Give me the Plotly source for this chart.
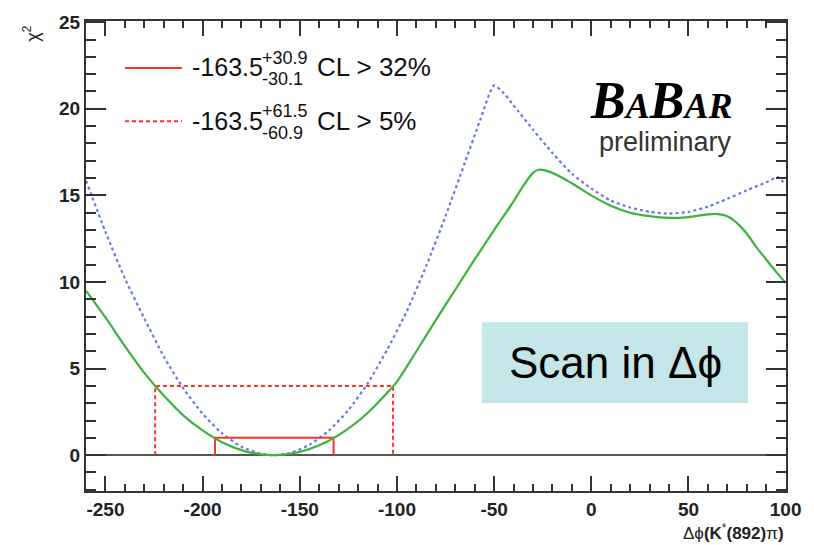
import plotly.graph_objects as go

# ---------------- data ----------------
green_x = [-260, -250, -240, -230, -220, -210, -200, -190, -180, -170, -163.5, -155, -145, -135,
           -125, -115, -105, -100, -90, -80, -70, -60, -50, -40, -35, -30, -27, -20, -10, 0,
           10, 20, 30, 40, 50, 60, 65, 70, 75, 80, 85, 90, 95, 100]
green_y = [9.5, 7.95, 6.3, 4.75, 3.44, 2.3, 1.43, 0.75, 0.29, 0.045, 0.0, 0.08, 0.36, 0.83,
           1.53, 2.45, 3.6, 4.25, 6.0, 7.8, 9.55, 11.3, 13.0, 14.65, 15.55, 16.3, 16.48, 16.3, 15.7, 15.0,
           14.4, 14.0, 13.8, 13.7, 13.75, 13.9, 13.92, 13.8, 13.4, 12.8, 12.0, 11.3, 10.6, 9.95]

blue_x = [-260, -250, -240, -230, -220, -210, -200, -190, -180, -170, -163, -155, -145, -135,
          -125, -115, -105, -95, -85, -75, -65, -57, -50, -45, -40, -30, -20, -10, 0,
          10, 20, 30, 40, 50, 60, 70, 80, 90, 96, 100]
blue_y = [15.85, 12.9, 10.2, 7.9, 5.7, 3.87, 2.39, 1.26, 0.49, 0.08, 0.0, 0.12, 0.6, 1.42,
          2.6, 4.15, 6.1, 8.3, 10.9, 13.8, 16.9, 19.4, 21.35, 20.9, 20.2, 18.8, 17.45, 16.25, 15.4,
          14.7, 14.3, 14.05, 13.95, 14.05, 14.35, 14.8, 15.3, 15.75, 16.05, 15.6]

central = -163.5
cl32_plus, cl32_minus, cl32_level = 30.9, 30.1, 1.0
cl5_plus, cl5_minus, cl5_level = 61.5, 60.9, 4.0

x_tickvals = [-250, -200, -150, -100, -50, 0, 50, 100]
x_ticktext = ["-250", "-200", "-150", "-100", "-50", "0", "50", "100"]
y_tickvals = [0, 5, 10, 15, 20, 25]
y_ticktext = ["0", "5", "10", "15", "20", "25"]

# ---------------- geometry helpers (pixel -> paper) ----------------
W, H = 814, 545
ML, MR, MT, MB = 86, 28, 15, 54
PW, PH = W - ML - MR, H - MT - MB


def px(p):
    return (p - ML) / PW


def py(p):
    return (H - MB - p) / PH


RED = "#ff3322"
GREEN = "#3cb43c"
BLUE = "#6677ee"

fig = go.Figure()

fig.add_trace(go.Scatter(x=blue_x, y=blue_y, mode="lines",
                         line=dict(color=BLUE, width=2.2, dash="dot", shape="spline", smoothing=0.6),
                         showlegend=False, hoverinfo="skip"))

for plus, minus, lev, dash in [(cl5_plus, cl5_minus, cl5_level, "4px,3px"),
                               (cl32_plus, cl32_minus, cl32_level, "solid")]:
    lo, hi = central - minus, central + plus
    fig.add_trace(go.Scatter(x=[lo, lo, hi, hi], y=[0, lev, lev, 0], mode="lines",
                             line=dict(color=RED, width=2, dash=dash),
                             showlegend=False, hoverinfo="skip"))

fig.add_trace(go.Scatter(x=green_x, y=green_y, mode="lines",
                         line=dict(color=GREEN, width=2.2, shape="spline", smoothing=0.8),
                         showlegend=False, hoverinfo="skip"))

axis_common = dict(showline=True, linecolor="#333", linewidth=2, mirror="ticks",
                   ticks="inside", tickcolor="#333", tickwidth=1.5,
                   showgrid=False,
                   tickfont=dict(family="Liberation Sans, Arial", size=19, color="#222", weight="bold"))

fig.update_xaxes(range=[-260, 100.2], tickvals=x_tickvals, ticktext=x_ticktext, ticklen=15,
                 minor=dict(dtick=10, ticks="inside", ticklen=7, tickcolor="#333", tickwidth=1.5),
                 zeroline=False, **axis_common)
fig.update_yaxes(range=[-2.07, 25.07], tickvals=y_tickvals, ticktext=y_ticktext, ticklen=20,
                 minor=dict(dtick=1, ticks="inside", ticklen=10, tickcolor="#333", tickwidth=1.5),
                 zeroline=True, zerolinecolor="#555", zerolinewidth=2, **axis_common)

shapes = []
annotations = []

# legend lines
shapes.append(dict(type="line", xref="paper", yref="paper", x0=px(125), x1=px(182),
                   y0=py(62.5), y1=py(62.5), line=dict(color=RED, width=2)))
shapes.append(dict(type="line", xref="paper", yref="paper", x0=px(125), x1=px(182),
                   y0=py(116.5), y1=py(116.5), line=dict(color=RED, width=2, dash="4px,3px")))

SANS = "Liberation Sans, Arial"


def ann(text, x, y, size, xanchor="left", yanchor="middle", color="#111", family=SANS, **kw):
    annotations.append(dict(text=text, x=px(x), y=py(y), xref="paper", yref="paper",
                            xanchor=xanchor, yanchor=yanchor, showarrow=False,
                            font=dict(family=family, size=size, color=color), **kw))


for row_y, plus, minus, lab in [(62, cl32_plus, cl32_minus, "CL > 32%"),
                                (116, cl5_plus, cl5_minus, "CL > 5%")]:
    ann(f"{central}", 190, row_y, 25)
    ann(f"+{plus}", 260, row_y - 10, 18)
    ann(f"-{minus}", 260, row_y + 12, 18)
    ann(lab, 315, row_y, 26)

# BaBar logo
ann('<b><i>B<span style="font-size:36px">A</span>B<span style="font-size:36px">AR</span></i></b>',
    734, 96, 52, xanchor="right", family="Liberation Serif, Times New Roman", color="#000")
ann("preliminary", 734, 138, 27, xanchor="right", color="#333")

# Scan box
shapes.append(dict(type="rect", xref="paper", yref="paper", x0=px(482), x1=px(748),
                   y0=py(402), y1=py(320), fillcolor="#c5e6e9", line=dict(width=0), layer="above"))
ann("Scan in Δϕ", 615, 361, 44, xanchor="center", color="#000")

# axis titles
ann("Δϕ<b>(K</b><sup>*</sup><b>(892)</b>π<b>)</b>", 786, 533, 17, xanchor="right", color="#222")
ann("χ<sup>2</sup>", 32, 28, 18, xanchor="center", color="#222", textangle=-90)

fig.update_layout(width=W, height=H, margin=dict(l=ML, r=MR, t=MT, b=MB),
                  paper_bgcolor="white", plot_bgcolor="white",
                  shapes=shapes, annotations=annotations, showlegend=False)

fig.write_html("out.html")
